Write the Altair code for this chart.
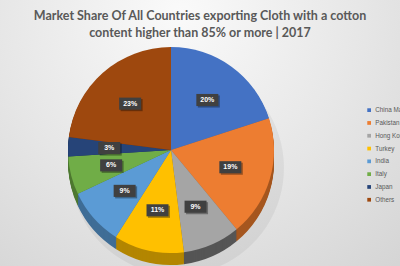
import altair as alt
import pandas as pd

# Market share by exporting country (percent), clockwise from 12 o'clock
countries = ["China Mainland", "Pakistan", "Hong Kong", "Turkey", "India", "Italy", "Japan", "Others"]
shares = [20, 19, 9, 11, 9, 6, 3, 23]
top_colors = ["#4472C4", "#ED7D31", "#A5A5A5", "#FFC000", "#5B9BD5", "#70AD47", "#264478", "#9E480E"]
side_colors = ["#2F5597", "#A5561F", "#555555", "#B38600", "#3F6D96", "#4E7931", "#1A2F54", "#6E320A"]
title_lines = ["Market Share Of All Countries exporting Cloth with a cotton",
               "content higher than 85% or more | 2017"]

df = pd.DataFrame({
    "idx": list(range(len(countries))),
    "country": countries,
    "share": shares,
    "side": side_colors,
})

CX, CY, R = 171, 150, 103
DEPTH = 12
W, H = 400, 266

# light radial backdrop
bg = alt.Chart(alt.Data(values=[{}])).mark_rect(
    fill=alt.RadialGradient(
        gradient="radial", x1=0.45, y1=0.2, r1=0.0, x2=0.45, y2=0.2, r2=0.85,
        stops=[alt.GradientStop(color="#fafafa", offset=0),
               alt.GradientStop(color="#e6e6e6", offset=0.55),
               alt.GradientStop(color="#d4d4d4", offset=1)]
    )
).encode(x=alt.value(0), x2=alt.value(W), y=alt.value(0), y2=alt.value(H))

base = alt.Chart(df)

# soft drop shadow
shadow = base.mark_arc(outerRadius=R + 4, opacity=0.05).encode(
    theta=alt.Theta("share:Q", stack=True),
    order=alt.Order("idx:Q"),
    color=alt.value("#000000"),
    x=alt.value(CX + 6), y=alt.value(CY + DEPTH + 6),
)

# extruded side of the pie
sides = []
for d in range(DEPTH, 0, -1):
    sides.append(base.mark_arc(outerRadius=R).encode(
        theta=alt.Theta("share:Q", stack=True),
        order=alt.Order("idx:Q"),
        color=alt.Color("side:N", scale=None, legend=None),
        x=alt.value(CX), y=alt.value(CY + d),
    ))

top = base.mark_arc(outerRadius=R).encode(
    theta=alt.Theta("share:Q", stack=True),
    order=alt.Order("idx:Q"),
    color=alt.Color(
        "country:N",
        scale=alt.Scale(domain=countries, range=top_colors),
        sort=countries,
        legend=alt.Legend(
            title=None, orient="none", legendX=366, legendY=107,
            symbolType="square", symbolSize=14, symbolStrokeWidth=0,
            labelFontSize=6.3, labelColor="#595959", labelFont="Liberation Sans",
            rowPadding=5.8, labelOffset=3, labelLimit=200,
        ),
    ),
    x=alt.value(CX), y=alt.value(CY),
)

labels_base = base.transform_window(
    cum="sum(share)", sort=[alt.SortField("idx")], frame=[None, 0]
).transform_joinaggregate(
    total="sum(share)"
).transform_calculate(
    mid="(datum.cum - datum.share / 2) / datum.total * 2 * PI",
    lx=f"{CX} + {R * 0.6} * sin(datum.mid)",
    ly=f"{CY} - {R * 0.6} * cos(datum.mid)",
    lsx=f"{CX} + {R * 0.6} * sin(datum.mid) + 1.5",
    lsy=f"{CY} - {R * 0.6} * cos(datum.mid) + 1.5",
    txt="datum.share + '%'",
)

box_shape = "M -1 -0.55 L 1 -0.55 L 1 0.55 L -1 0.55 Z"
box_shadow = labels_base.mark_point(shape=box_shape, filled=True, size=484, opacity=0.35, color="#000000").encode(
    x=alt.X("lsx:Q", scale=None, axis=None), y=alt.Y("lsy:Q", scale=None, axis=None)
)
boxes = labels_base.mark_point(shape=box_shape, filled=True, size=484, opacity=1, color="#404040").encode(
    x=alt.X("lx:Q", scale=None, axis=None), y=alt.Y("ly:Q", scale=None, axis=None)
)
texts = labels_base.mark_text(
    color="#ffffff", fontSize=7, fontWeight="bold", font="Liberation Sans", baseline="middle", align="center"
).encode(
    x=alt.X("lx:Q", scale=None, axis=None), y=alt.Y("ly:Q", scale=None, axis=None),
    text="txt:N",
)

title1 = alt.Chart(alt.Data(values=[{}])).mark_text(
    text=title_lines[0], fontSize=12.5, fontWeight="bold", font="Lato",
    color="#595959", align="center", baseline="middle"
).encode(x=alt.value(200), y=alt.value(16))
title2 = alt.Chart(alt.Data(values=[{}])).mark_text(
    text=title_lines[1], fontSize=12.5, fontWeight="bold", font="Lato",
    color="#595959", align="center", baseline="middle"
).encode(x=alt.value(200), y=alt.value(33))

chart = alt.layer(
    bg, shadow, *sides, top, box_shadow, boxes, texts, title1, title2
).resolve_scale(color="independent").properties(
    width=W, height=H, autosize=alt.AutoSizeParams(type="none"), padding=0
).configure_view(stroke=None).configure(background="#d9d9d9")

chart.save("out.html", embed_options={"renderer": "svg", "actions": False})
